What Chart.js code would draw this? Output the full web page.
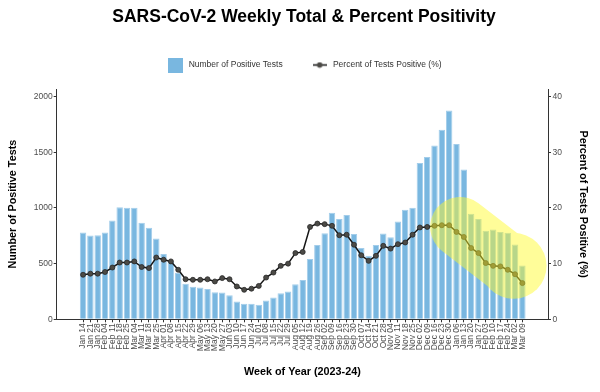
<!DOCTYPE html>
<html>
<head>
<meta charset="utf-8">
<script src="https://cdn.jsdelivr.net/npm/chart.js@4.4.1/dist/chart.umd.min.js"></script>
<style>
  html, body { margin: 0; padding: 0; background: #fff; }
  #wrap { width: 600px; height: 392px; }
</style>
</head>
<body>
<div id="wrap"><canvas id="chart" width="600" height="392"></canvas></div>
<script>
// week labels (2023-24)
const weeks = [
  "Jan 14","Jan 21","Jan 28","Feb 04","Feb 11","Feb 18","Feb 25","Mar 04","Mar 11","Mar 18",
  "Mar 25","Apr 01","Apr 08","Apr 15","Apr 22","Apr 29","May 06","May 13","May 20","May 27",
  "Jun 03","Jun 10","Jun 17","Jun 24","Jul 01","Jul 08","Jul 15","Jul 22","Jul 29","Aug 05",
  "Aug 12","Aug 19","Aug 26","Sep 02","Sep 09","Sep 16","Sep 23","Sep 30","Oct 07","Oct 14",
  "Oct 21","Oct 28","Nov 04","Nov 11","Nov 18","Nov 25","Dec 02","Dec 09","Dec 16","Dec 23",
  "Dec 30","Jan 06","Jan 13","Jan 20","Jan 27","Feb 03","Feb 10","Feb 17","Feb 24","Mar 02",
  "Mar 09"
];

// number of positive tests per week
const positiveTests = [
  780, 752, 756, 780, 888, 1007, 1002, 1002, 867, 822,
  727, 586, 520, 418, 319, 292, 285, 273, 243, 241,
  217, 160, 139, 139, 131, 170, 196, 234, 249, 316,
  352, 541, 667, 774, 958, 900, 936, 767, 640, 571,
  667, 771, 737, 879, 985, 1003, 1405, 1458, 1562, 1702,
  1876, 1575, 1346, 949, 901, 796, 807, 784, 777, 673,
  484
];

// percent of tests positive (%)
const percentPositive = [
  8.0, 8.2, 8.2, 8.5, 9.3, 10.2, 10.2, 10.4, 9.4, 9.2,
  11.1, 10.7, 10.4, 8.9, 7.2, 7.1, 7.1, 7.2, 6.8, 7.4,
  7.2, 5.9, 5.3, 5.5, 6.0, 7.5, 8.4, 9.6, 10.0, 11.9,
  12.1, 16.6, 17.2, 17.1, 16.8, 15.1, 15.2, 13.4, 11.5, 10.5,
  11.4, 13.2, 12.7, 13.5, 13.8, 15.2, 16.5, 16.6, 16.8, 16.9,
  16.9, 15.7, 14.8, 12.8, 11.9, 10.1, 9.6, 9.5, 8.9, 8.1,
  6.5
];

const countTicks = [0, 500, 1000, 1500, 2000];
const percentTicks = [0, 10, 20, 30, 40];

const FONT = '"Liberation Sans", Arial, Helvetica, sans-serif';
Chart.defaults.font.family = FONT;

const barBlue = "#79b7e0";
const axisGrey = "#333333";
const tickGrey = "#4d4d4d";

// legend icons
function squareIcon() {
  const c = document.createElement("canvas");
  c.width = 15; c.height = 15;
  const g = c.getContext("2d");
  g.fillStyle = barBlue;
  g.fillRect(0, 0, 15, 15);
  return c;
}
function lineIcon() {
  const c = document.createElement("canvas");
  c.width = 14; c.height = 7;
  const g = c.getContext("2d");
  g.strokeStyle = "#111";
  g.lineWidth = 1.5;
  g.beginPath(); g.moveTo(0, 3.5); g.lineTo(14, 3.5); g.stroke();
  g.fillStyle = "#4b4a46";
  g.beginPath(); g.arc(7, 3.5, 2.8, 0, Math.PI * 2); g.fill();
  return c;
}
const legendIcons = [squareIcon(), lineIcon()];

// yellow marker highlight over the recent decline
const highlight = {
  id: "highlight",
  afterDatasetsDraw(chart) {
    const { ctx, scales: { x, y1 } } = chart;
    const a = [x.getPixelForValue(51.5), y1.getPixelForValue(16.6)];
    const b = [x.getPixelForValue(57.7), y1.getPixelForValue(10.3)];
    const c = [x.getPixelForValue(58.8), y1.getPixelForValue(9.6)];
    const off = document.createElement("canvas");
    off.width = chart.width; off.height = chart.height;
    const g = off.getContext("2d");
    g.strokeStyle = g.fillStyle = "rgb(255,250,40)";
    g.lineWidth = 60; g.lineCap = "round";
    g.beginPath(); g.moveTo(a[0], a[1]); g.lineTo(b[0], b[1]); g.stroke();
    g.beginPath(); g.arc(c[0], c[1], 33, 0, Math.PI * 2); g.fill();
    ctx.save();
    ctx.globalAlpha = 0.47;
    ctx.drawImage(off, 0, 0);
    ctx.restore();
  }
};

const ctx = document.getElementById("chart").getContext("2d");
new Chart(ctx, {
  type: "bar",
  data: {
    datasets: [{
      type: "bar",
      label: "Number of Positive Tests",
      data: positiveTests.map((v, i) => ({ x: i, y: v })),
      backgroundColor: barBlue,
      borderColor: "#a3cdea",
      borderWidth: 1,
      categoryPercentage: 1,
      barPercentage: 0.88,
      yAxisID: "y",
      order: 2
    }, {
      type: "line",
      label: "Percent of Tests Positive (%)",
      data: percentPositive.map((v, i) => ({ x: i, y: v })),
      borderColor: "#161616",
      borderWidth: 1.5,
      pointRadius: 2.5,
      pointBackgroundColor: "#4b4a46",
      pointBorderColor: "#2a2a2a",
      pointBorderWidth: 0.8,
      tension: 0,
      yAxisID: "y1",
      order: 1
    }]
  },
  options: {
    responsive: false,
    animation: false,
    layout: { padding: { left: 8, right: 0, top: 0, bottom: 0 } },
    plugins: {
      tooltip: { enabled: false },
      title: {
        display: true,
        text: "SARS-CoV-2 Weekly Total & Percent Positivity",
        color: "#000",
        font: { size: 17.5, weight: "bold" },
        padding: { top: 7, bottom: 4.75 }
      },
      legend: {
        display: true,
        labels: {
          usePointStyle: true,
          pointStyleWidth: 18,
          padding: 28,
          color: "#333",
          font: { size: 8.5 },
          generateLabels: chart => chart.data.datasets.map((ds, i) => ({
            text: ds.label,
            pointStyle: legendIcons[i],
            datasetIndex: i,
            fontColor: "#333",
            lineWidth: 0,
            hidden: false
          }))
        },
        onClick: () => {}
      }
    },
    scales: {
      x: {
        type: "linear",
        position: "bottom",
        min: -3.6,
        max: 63.5,
        offset: false,
        afterBuildTicks: s => { s.ticks = weeks.map((w, i) => ({ value: i })); },
        afterFit: s => { s.height = 72.7; },
        ticks: {
          autoSkip: false,
          minRotation: 90,
          maxRotation: 90,
          padding: 1,
          color: tickGrey,
          font: { size: 8.5 },
          callback: v => weeks[v]
        },
        grid: { offset: false, drawOnChartArea: false, drawTicks: true, tickLength: 3, color: axisGrey },
        border: { display: true, color: axisGrey, width: 1 },
        title: {
          display: true,
          text: "Week of Year (2023-24)",
          color: "#000",
          font: { size: 10.8, weight: "bold" },
          padding: { top: 0, bottom: 13.5 }
        }
      },
      xTop: {
        type: "linear",
        axis: "x",
        position: "top",
        display: true,
        afterFit: s => { s.height = 9.75; },
        ticks: { display: false },
        grid: { display: false },
        border: { display: false }
      },
      y: {
        type: "linear",
        position: "left",
        min: 0,
        max: 2069,
        afterBuildTicks: s => { s.ticks = countTicks.map(v => ({ value: v })); },
        afterFit: s => { s.width = 48.7; },
        ticks: { padding: 1, color: tickGrey, font: { size: 8.5 }, callback: v => String(v) },
        grid: { drawOnChartArea: false, drawTicks: true, tickLength: 3, color: axisGrey },
        border: { display: true, color: axisGrey, width: 1 },
        title: {
          display: true,
          text: "Number of Positive Tests",
          color: "#000",
          font: { size: 10.8, weight: "bold", lineHeight: 1 },
          padding: 0
        }
      },
      y1: {
        type: "linear",
        position: "right",
        min: 0,
        max: 41.38,
        afterBuildTicks: s => { s.ticks = percentTicks.map(v => ({ value: v })); },
        afterFit: s => { s.width = 52; },
        ticks: { padding: 1.5, color: tickGrey, font: { size: 8.5 }, callback: v => String(v) },
        grid: { drawOnChartArea: false, drawTicks: true, tickLength: 3, color: axisGrey },
        border: { display: true, color: axisGrey, width: 1 },
        title: {
          display: true,
          text: "Percent of Tests Positive (%)",
          color: "#000",
          font: { size: 10.8, weight: "bold" },
          padding: { top: 10.8, bottom: 0 }
        }
      }
    }
  },
  plugins: [highlight]
});
</script>
</body>
</html>
